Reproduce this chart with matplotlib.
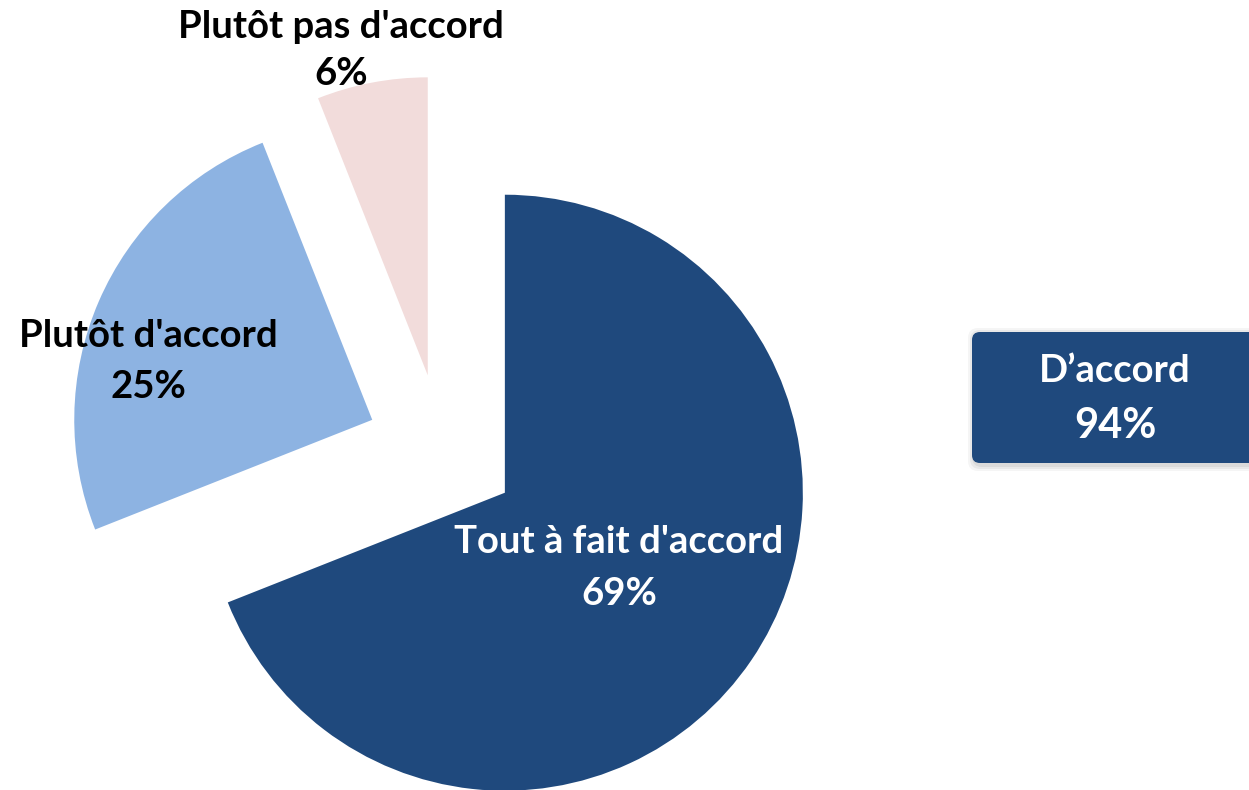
import matplotlib
matplotlib.use("Agg")
import matplotlib.pyplot as plt
from matplotlib.patches import FancyBboxPatch

categories = ["Tout à fait d'accord", "Plutôt d'accord", "Plutôt pas d'accord"]
values = [69, 25, 6]
colors = ["#1F497D", "#8DB3E2", "#F2DCDB"]
total_label = "D\u2019accord"
total_value = "94%"

W, H = 1249, 790
fig = plt.figure(figsize=(W / 100, H / 100), dpi=100)
ax = fig.add_axes([0, 0, 1, 1])

R = 298
center = (442, H - 450)
ax.pie(values, colors=colors, startangle=90, counterclock=False,
       radius=R, center=center, explode=[76] * 3,
       wedgeprops=dict(linewidth=0), frame=False)
ax.set_xlim(0, W)
ax.set_ylim(0, H)
ax.set_aspect("equal")
ax.axis("off")

font = "Lato"
fs = 27.5

def two_lines(x, y1, y2, l1, l2, color, fs1=fs, fs2=fs):
    ax.text(x, H - y1, l1, ha="center", va="baseline", fontsize=fs1,
            fontweight="bold", family=font, color=color)
    ax.text(x, H - y2, l2, ha="center", va="baseline", fontsize=fs2,
            fontweight="bold", family=font, color=color)

two_lines(619, 553, 605, categories[0], f"{values[0]}%", "white")
two_lines(148, 347, 398, categories[1], f"{values[1]}%", "black")
two_lines(341, 38, 85, categories[2], f"{values[2]}%", "black")

# summary box with soft shadow
for i, a in enumerate([0.06, 0.05, 0.04]):
    off = 2 + i * 2
    sh = FancyBboxPatch((972 - off + 2, H - 463 - off - 2), 320 + 2 * off, 131 + 2 * off,
                        boxstyle="round,pad=0,rounding_size=10",
                        facecolor="black", edgecolor="none", alpha=a, zorder=2)
    ax.add_patch(sh)
box = FancyBboxPatch((972, H - 463), 320, 131,
                     boxstyle="round,pad=0,rounding_size=8",
                     facecolor="#1F497D", edgecolor="none", zorder=3)
ax.add_patch(box)
ax.text(1115, H - 382, total_label, ha="center", va="baseline", fontsize=27.5,
        fontweight="bold", family=font, color="white", zorder=4)
ax.text(1115, H - 438, total_value, ha="center", va="baseline", fontsize=30,
        fontweight="bold", family=font, color="white", zorder=4)

fig.savefig("out.png", dpi=100)
